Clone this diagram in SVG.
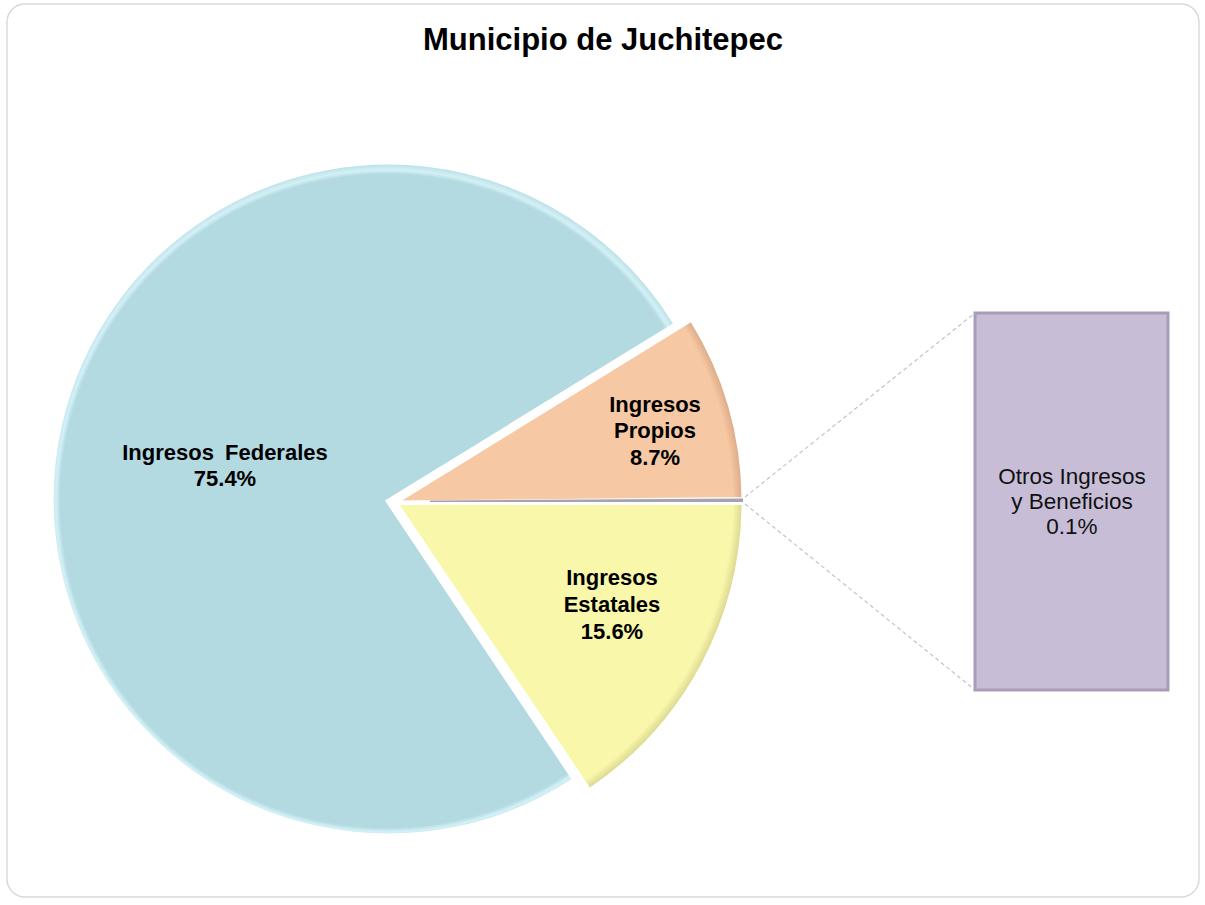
<svg xmlns="http://www.w3.org/2000/svg" width="1205" height="905" viewBox="0 0 1205 905">
<style>
.lbl{font-family:"Liberation Sans",Arial,sans-serif;font-weight:bold;font-size:22px;fill:#000;text-anchor:middle}
.bar{font-family:"Liberation Sans",Arial,sans-serif;font-size:22.5px;fill:#111;text-anchor:middle}
.title{font-family:"Liberation Sans",Arial,sans-serif;font-weight:bold;font-size:31px;fill:#000;text-anchor:middle}
.slice{stroke:#fff;stroke-width:3;stroke-linejoin:miter}
.conn{fill:none;stroke:#c4c4c4;stroke-width:1.2;stroke-dasharray:4 3}
</style>
<defs>
<radialGradient id="gFed" gradientUnits="userSpaceOnUse" cx="387" cy="501" r="336">
<stop offset="0" stop-color="#b3d9e1"/>
<stop offset="0.972" stop-color="#b3d9e1"/>
<stop offset="0.985" stop-color="#d3f1f6"/>
<stop offset="1" stop-color="#bfe2ea"/>
</radialGradient>
<radialGradient id="gPro" gradientUnits="userSpaceOnUse" cx="397" cy="502" r="346">
<stop offset="0" stop-color="#f6c8a4"/>
<stop offset="0.97" stop-color="#f6c8a4"/>
<stop offset="1" stop-color="#dba884"/>
</radialGradient>
<radialGradient id="gEst" gradientUnits="userSpaceOnUse" cx="397" cy="502" r="346">
<stop offset="0" stop-color="#f9f7aa"/>
<stop offset="0.97" stop-color="#f9f7aa"/>
<stop offset="1" stop-color="#d8d58e"/>
</radialGradient>
</defs>
<rect x="7" y="4" width="1192" height="893" rx="18" fill="#fff" stroke="#d9d9d9" stroke-width="1.5"/>
<text class="title" x="603" y="50">Municipio de Juchitepec</text>
<g id="connectors">
<line class="conn" x1="745" y1="497" x2="975" y2="313"/>
<line class="conn" x1="745" y1="504" x2="975" y2="690"/>
</g>
<g id="federales">
<path class="slice" fill="url(#gFed)" d="M387,501 L573.4,779.4 A336,336 0 1 1 675,324 Z"/>
<text class="lbl" x="225" y="460" word-spacing="5">Ingresos Federales</text>
<text class="lbl" x="225" y="486">75.4%</text>
</g>
<g id="propios">
<path class="slice" fill="url(#gPro)" d="M397,502 L691.4,320.2 A346,346 0 0 1 743,498.6 Z"/>
<text class="lbl" x="655" y="412">Ingresos</text>
<text class="lbl" x="655" y="438">Propios</text>
<text class="lbl" x="655" y="465">8.7%</text>
</g>
<g id="otros-slice">
<path fill="#a3a3b2" d="M430,500.6 L743,498.6 A346,346 0 0 1 743,502.6 L430,502.2 Z"/>
</g>
<g id="estatales">
<path class="slice" fill="url(#gEst)" d="M397,503.5 L743,503.5 A346,346 0 0 1 589.5,789.5 Z"/>
<text class="lbl" x="612" y="585">Ingresos</text>
<text class="lbl" x="612" y="612">Estatales</text>
<text class="lbl" x="612" y="639">15.6%</text>
</g>
<g id="otros-bar">
<rect x="975" y="313" width="193" height="377" fill="#c7bdd7" stroke="#a89cb9" stroke-width="3"/>
<text class="bar" x="1072" y="484">Otros Ingresos</text>
<text class="bar" x="1072" y="509">y Beneficios</text>
<text class="bar" x="1072" y="534">0.1%</text>
</g>
</svg>
